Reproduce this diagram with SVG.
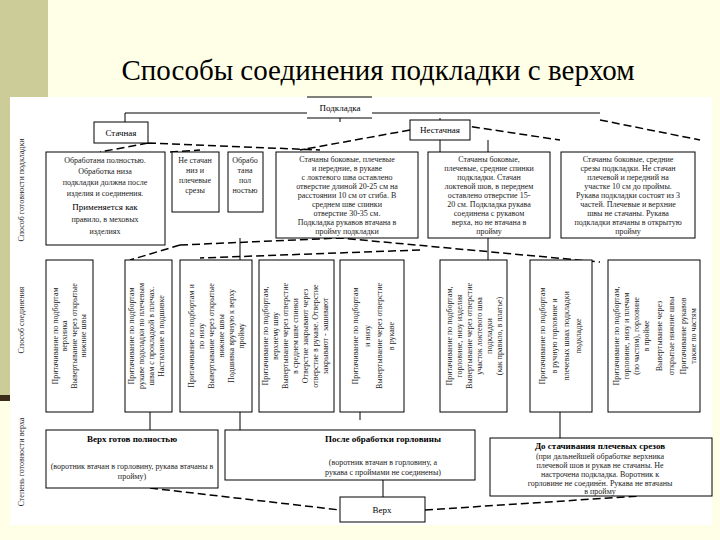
<svg xmlns="http://www.w3.org/2000/svg" width="720" height="540" viewBox="0 0 720 540">
<style>
.b{fill:#fff;stroke:#000;stroke-width:1}
.t{font-family:"Liberation Serif",serif;font-size:8px;fill:#222;text-anchor:middle}
.h{font-family:"Liberation Serif",serif;font-size:9px;fill:#000;text-anchor:middle}
.s{stroke:#000;stroke-width:1;fill:none}
.d{stroke:#000;stroke-width:1.5;fill:none;stroke-dasharray:8 4}
</style>
<rect width="720" height="540" fill="#FFFFE8"/>
<rect x="0" y="0" width="48" height="395" fill="#CCCC99"/>
<rect x="0" y="395" width="16" height="6" fill="#3a2a1a"/>
<text x="378" y="80" font-family="Liberation Serif,serif" font-size="29" text-anchor="middle" fill="#000">Способы соединения подкладки с верхом</text>
<rect x="10" y="97" width="702" height="428" fill="#fff"/>
<text class="t" transform="translate(24,190) rotate(-90)">Способ готовности подкладки</text>
<text class="t" transform="translate(24,320) rotate(-90)">Способ соединения</text>
<text class="t" transform="translate(24,462) rotate(-90)">Степень готовности верха</text>

<g id="connectors">
<path class="s" d="M125 113V122M340 118V122M440 118V120M440 140V152M488 140V152M488 238V260M240 238V260M240 412V430M150 412V430M360 412V420M383 480V497M560 412V438"/>
<path class="s" d="M125 113H307M372 113H600"/>
<path class="d" d="M148 143L320 150M148 143L100 152M170 152L200 150M600 120L700 140M460 125L560 140M410 130L300 150"/>
<path class="d" d="M180 245L340 238L600 262M180 245L130 260M420 250L200 258"/>
<path class="d" d="M150 488L340 510M425 510L640 496"/>
</g>

<g id="podkladka"><path class="s" d="M307 97H372M307 118H372"/><text class="h" x="340" y="111">Подкладка</text></g>
<g id="stachnaya"><rect class="b" x="94" y="122" width="54" height="21"/><text class="h" x="121" y="136">Стачная</text></g>
<g id="nestachnaya"><rect class="b" x="410" y="120" width="60" height="20"/><text class="h" x="440" y="133">Нестачная</text></g>

<g id="r1a"><rect class="b" x="46" y="152" width="119" height="93"/>
<text class="t" x="105" y="163">Обработана полностью.</text><text class="t" x="105" y="174">Обработка низа</text><text class="t" x="105" y="185">подкладки должна после</text><text class="t" x="105" y="196">изделия и соединения.</text><text class="h" x="105" y="210">Применяется как</text><text class="t" x="105" y="222">правило, в меховых</text><text class="t" x="105" y="234">изделиях</text></g>
<g id="r1b"><rect class="b" x="172" y="152" width="47" height="60"/><text class="t" x="195" y="163">Не стачан</text><text class="t" x="195" y="173">низ и</text><text class="t" x="195" y="183">плечевые</text><text class="t" x="195" y="193">срезы</text></g>
<g id="r1c"><rect class="b" x="228" y="152" width="35" height="60"/><text class="t" x="245" y="163">Обрабо</text><text class="t" x="245" y="173">тана</text><text class="t" x="245" y="183">пол</text><text class="t" x="245" y="193">ностью</text></g>
<g id="r1d"><rect class="b" x="276" y="152" width="142" height="86"/>
<text class="t" x="347" y="162">Стачаны боковые, плечевые</text><text class="t" x="347" y="171">и передние, в рукаве</text><text class="t" x="347" y="180">с локтевого шва оставлено</text><text class="t" x="347" y="189">отверстие длиной 20-25 см на</text><text class="t" x="347" y="198">расстоянии 10 см от сгиба. В</text><text class="t" x="347" y="207">среднем шве спинки</text><text class="t" x="347" y="216">отверстие 30-35 см.</text><text class="t" x="347" y="225">Подкладка рукавов втачана в</text><text class="t" x="347" y="234">пройму подкладки</text></g>
<g id="r1e"><rect class="b" x="428" y="152" width="122" height="86"/>
<text class="t" x="489" y="162">Стачаны боковые,</text><text class="t" x="489" y="171">плечевые, средние спинки</text><text class="t" x="489" y="180">подкладки. Стачан</text><text class="t" x="489" y="189">локтевой шов, в переднем</text><text class="t" x="489" y="198">оставлено отверстие 15-</text><text class="t" x="489" y="207">20 см. Подкладка рукава</text><text class="t" x="489" y="216">соединена с рукавом</text><text class="t" x="489" y="225">верха, но не втачана в</text><text class="t" x="489" y="234">пройму</text></g>
<g id="r1f"><rect class="b" x="561" y="152" width="134" height="86"/>
<text class="t" x="628" y="162">Стачаны боковые, средние</text><text class="t" x="628" y="171">срезы подкладки. Не стачан</text><text class="t" x="628" y="180">плечевой и передний на</text><text class="t" x="628" y="189">участке 10 см до проймы.</text><text class="t" x="628" y="198">Рукава подкладки состоят из 3</text><text class="t" x="628" y="207">частей. Плечевые и верхние</text><text class="t" x="628" y="216">швы не стачаны. Рукава</text><text class="t" x="628" y="225">подкладки втачаны в открытую</text><text class="t" x="628" y="234">пройму</text></g>

<g id="r2a"><rect class="b" x="46" y="260" width="47" height="152"/><text class="t" transform="translate(58,336) rotate(-90)">Притачивание по подбортам</text><text class="t" transform="translate(67,336) rotate(-90)">верхника</text><text class="t" transform="translate(77,336) rotate(-90)">Вывертывание через открытые</text><text class="t" transform="translate(86,336) rotate(-90)">нижние швы</text></g>
<g id="r2b"><rect class="b" x="125" y="260" width="47" height="152"/><text class="t" transform="translate(134,336) rotate(-90)">Притачивание по подбортам</text><text class="t" transform="translate(144,336) rotate(-90)">рукаве подкладки по плечевым</text><text class="t" transform="translate(154,336) rotate(-90)">швам с прокладкой в плечах.</text><text class="t" transform="translate(164,336) rotate(-90)">Настилание в подшивке</text></g>
<g id="r2c"><rect class="b" x="180" y="260" width="72" height="152"/><text class="t" transform="translate(194,336) rotate(-90)">Притачивание по подбортам и</text><text class="t" transform="translate(204,336) rotate(-90)">по низу</text><text class="t" transform="translate(214,336) rotate(-90)">Вывертывание через открытые</text><text class="t" transform="translate(224,336) rotate(-90)">нижние швы</text><text class="t" transform="translate(234,336) rotate(-90)">Подшивка вручную к верху</text><text class="t" transform="translate(244,336) rotate(-90)">пройму</text></g>
<g id="r2d"><rect class="b" x="259" y="260" width="75" height="152"/><text class="t" transform="translate(268,336) rotate(-90)">Притачивание по подбортам,</text><text class="t" transform="translate(278,336) rotate(-90)">верхнему шву</text><text class="t" transform="translate(288,336) rotate(-90)">Вывертывание через отверстие</text><text class="t" transform="translate(298,336) rotate(-90)">в среднем шве спинки</text><text class="t" transform="translate(308,336) rotate(-90)">Отверстие закрывают через</text><text class="t" transform="translate(318,336) rotate(-90)">отверстие в рукаве. Отверстие</text><text class="t" transform="translate(328,336) rotate(-90)">закрывают - зашивают</text></g>
<g id="r2e"><rect class="b" x="340" y="260" width="64" height="152"/><text class="t" transform="translate(358,336) rotate(-90)">Притачивание по подбортам</text><text class="t" transform="translate(370,336) rotate(-90)">и низу</text><text class="t" transform="translate(382,336) rotate(-90)">Вывертывание через отверстие</text><text class="t" transform="translate(394,336) rotate(-90)">в рукаве</text></g>
<g id="r2f"><rect class="b" x="440" y="260" width="67" height="152"/><text class="t" transform="translate(452,336) rotate(-90)">Притачивание по подбортам,</text><text class="t" transform="translate(462,336) rotate(-90)">горловине, низу изделия</text><text class="t" transform="translate(472,336) rotate(-90)">Вывертывание через отверстие</text><text class="t" transform="translate(482,336) rotate(-90)">участок локтевого шва</text><text class="t" transform="translate(492,336) rotate(-90)">подкладки</text><text class="t" transform="translate(502,336) rotate(-90)">(как правило, в платье)</text></g>
<g id="r2g"><rect class="b" x="530" y="260" width="62" height="152"/><text class="t" transform="translate(545,336) rotate(-90)">Притачивание по подбортам</text><text class="t" transform="translate(557,336) rotate(-90)">в ручную горловине и</text><text class="t" transform="translate(569,336) rotate(-90)">плечевых швах подкладки</text><text class="t" transform="translate(581,336) rotate(-90)">подкладке</text></g>
<g id="r2h"><rect class="b" x="608" y="260" width="92" height="152"/><text class="t" transform="translate(619,336) rotate(-90)">Притачивание по подбортам,</text><text class="t" transform="translate(629,336) rotate(-90)">горловине, низу и плечам</text><text class="t" transform="translate(639,336) rotate(-90)">(по частям), горловине</text><text class="t" transform="translate(649,336) rotate(-90)">в пройме</text><text class="t" transform="translate(662,336) rotate(-90)">Вывертывание через</text><text class="t" transform="translate(674,336) rotate(-90)">открытые нижние швы</text><text class="t" transform="translate(686,336) rotate(-90)">Притачивание рукавов</text><text class="t" transform="translate(696,336) rotate(-90)">также по частям</text></g>

<g id="r3a"><rect class="b" x="46" y="430" width="172" height="58"/><text class="h" x="132" y="442" font-weight="bold">Верх готов полностью</text><text class="t" x="132" y="469">(воротник втачан в горловину, рукава втачаны в</text><text class="t" x="132" y="479">пройму)</text></g>
<g id="r3b"><rect class="b" x="225" y="430" width="250" height="50"/><text class="h" x="383" y="442" font-weight="bold">После обработки горловины</text><text class="t" x="383" y="465">(воротник втачан в горловину, а</text><text class="t" x="383" y="475">рукава с проймами не соединены)</text></g>
<g id="r3c"><rect class="b" x="490" y="438" width="222" height="58"/><text class="h" x="600" y="449" font-weight="bold">До стачивания плечевых срезов</text><text class="t" x="600" y="459">(при дальнейшей обработке верхника</text><text class="t" x="600" y="468">плечевой шов и рукав не стачаны. Не</text><text class="t" x="600" y="477">настрочена подкладка. Воротник к</text><text class="t" x="600" y="486">горловине не соединён. Рукава не втачаны</text><text class="t" x="600" y="494">в пройму</text></g>
<g id="verh"><rect class="b" x="340" y="497" width="85" height="25"/><text class="h" x="382" y="513">Верх</text></g>
</svg>
